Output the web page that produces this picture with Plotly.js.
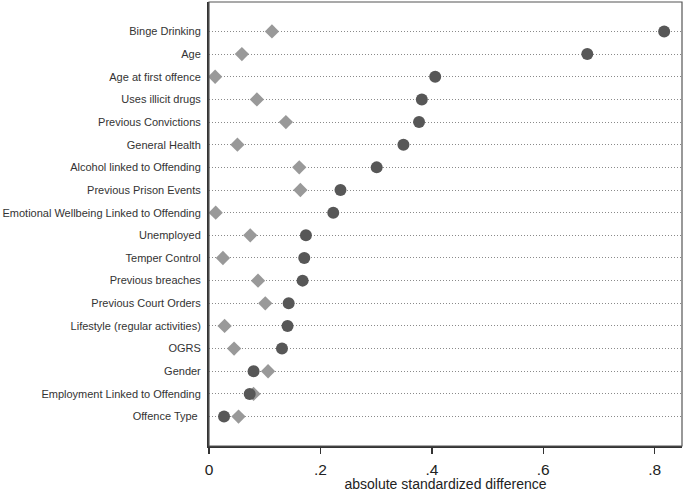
<!DOCTYPE html>
<html>
<head>
<meta charset="utf-8">
<script src="https://cdn.plot.ly/plotly-3.0.1.min.js"></script>
<style>html,body{margin:0;padding:0;background:#fff}#chart{width:685px;height:492px}</style>
</head>
<body>
<div id="chart"></div>
<script>
// Categories from top to bottom
var categories = ["Binge Drinking","Age","Age at first offence","Uses illicit drugs","Previous Convictions","General Health","Alcohol linked to Offending","Previous Prison Events","Emotional Wellbeing Linked to Offending","Unemployed","Temper Control","Previous breaches","Previous Court Orders","Lifestyle (regular activities)","OGRS","Gender","Employment Linked to Offending","Offence Type\u00a0"];
// Dark circles (before matching)
var circleValues = [0.817,0.679,0.406,0.382,0.377,0.349,0.301,0.236,0.223,0.174,0.171,0.168,0.143,0.141,0.131,0.080,0.073,0.027];
// Grey diamonds (after matching)
var diamondValues = [0.113,0.059,0.011,0.086,0.138,0.051,0.162,0.164,0.012,0.074,0.025,0.088,0.101,0.028,0.045,0.106,0.080,0.053];
var xTickVals = [0,0.2,0.4,0.6,0.8];
var xTickText = ["0",".2",".4",".6",".8"];
var xTitle = "absolute standardized difference";

var n = categories.length;
var yIdx = categories.map(function(_, i){ return n - 1 - i; });

var traces = [
  {type:'scatter', mode:'markers', x: diamondValues, y: yIdx,
   marker:{symbol:'diamond', size:11, color:'#999999', line:{width:0}}, hoverinfo:'skip'},
  {type:'scatter', mode:'markers', x: circleValues, y: yIdx,
   marker:{symbol:'circle', size:12, color:'#575757', line:{width:0}}, hoverinfo:'skip'}
];

var layout = {
  width:685, height:492,
  margin:{l:209, r:3, t:2, b:46},
  showlegend:false,
  paper_bgcolor:'#ffffff', plot_bgcolor:'#ffffff',
  font:{family:'Liberation Sans, Arial, sans-serif', color:'#222'},
  xaxis:{range:[0,0.849], tickvals:xTickVals, ticktext:xTickText,
    ticks:'outside', ticklen:6, tickwidth:1.5, tickcolor:'#333',
    showgrid:false, zeroline:false, showline:true, linecolor:'#333', linewidth:2,
    tickfont:{size:15.5, color:'#222'}, ticklabelstandoff:2,
    title:{text:xTitle, font:{size:14, color:'#222'}, standoff:0}},
  yaxis:{range:[-1.3, n-1+1.3], tickvals:yIdx, ticktext:categories,
    ticks:'', showgrid:true, gridcolor:'#8a8a8a', griddash:'1px,2px', gridwidth:1,
    zeroline:false, showline:true, linecolor:'#333', linewidth:2,
    tickfont:{size:11, color:'#333'}, ticklabelstandoff:4},
  shapes:[{type:'rect', xref:'paper', yref:'paper', x0:0, x1:1, y0:0, y1:1,
    line:{color:'#555', width:1.2}}]
};

Plotly.newPlot('chart', traces, layout, {staticPlot:true, displayModeBar:false});
</script>
</body>
</html>
